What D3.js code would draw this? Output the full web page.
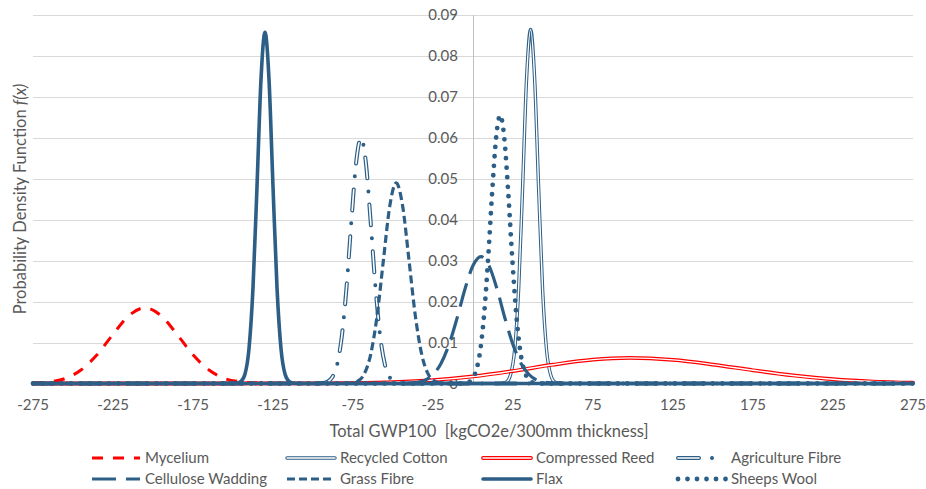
<!DOCTYPE html>
<html><head><meta charset="utf-8">
<script src="https://cdn.jsdelivr.net/npm/d3@7"></script>
<style>
html,body{margin:0;padding:0;background:#fff;}
svg{display:block;font-family:"Lato","Liberation Sans",sans-serif;}
</style></head>
<body><svg id="chart" width="926" height="489"></svg>
<script>
// ---- data ----
const xTicks = [-275,-225,-175,-125,-75,-25,25,75,125,175,225,275];
const yTicks = [0,0.01,0.02,0.03,0.04,0.05,0.06,0.07,0.08,0.09];
const seriesNames = ["Mycelium","Recycled Cotton","Compressed Reed","Agriculture Fibre","Cellulose Wadding","Grass Fibre","Flax","Sheeps Wool"];

const mycelium = [[-275,0.0001],[-265,0.0004],[-255,0.0012],[-245,0.0033],[-235,0.0070],[-225,0.0120],[-215,0.0166],[-205,0.0185],[-195,0.0166],[-185,0.0120],[-175,0.0070],[-165,0.0033],[-155,0.0012],[-145,0.0004],[-135,0.0001],[-120,0],[275,0]];
const recycledCotton = [[-275,0],[16,0],[18.5,0.0001],[21,0.0004],[23.5,0.0022],[26,0.0081],[28.5,0.0229],[31,0.0479],[33.5,0.0746],[36,0.0865],[38.5,0.0746],[41,0.0479],[43.5,0.0229],[46,0.0081],[48.5,0.0022],[51,0.0004],[53.5,0.0001],[56,0],[275,0]];
const compressedReed = [[-275,0],[-200,0],[-150,0.000002],[-100,0.000032],[-75,0.00011],[-50,0.00033],[-25,0.00082],[0,0.00172],[25,0.00305],[50,0.00459],[75,0.00582],[98,0.00625],[125,0.00576],[150,0.00462],[175,0.00323],[200,0.00196],[225,0.00104],[250,0.00048],[275,0.00019]];
const agricultureFibre = [[-275,0],[-97,0],[-94,0.0001],[-91,0.0004],[-88,0.0015],[-85,0.0045],[-82,0.0115],[-79,0.0237],[-76,0.0397],[-73,0.0541],[-70,0.0600],[-67,0.0541],[-64,0.0397],[-61,0.0237],[-58,0.0115],[-55,0.0045],[-52,0.0015],[-49,0.0004],[-46,0.0001],[-43,0],[275,0]];
const celluloseWadding = [[-275,0],[-45,0],[-40,0.0001],[-35,0.0003],[-30,0.0008],[-25,0.0022],[-20,0.0049],[-15,0.0095],[-10,0.0159],[-5,0.0231],[0,0.0288],[5,0.0310],[10,0.0288],[15,0.0231],[20,0.0159],[25,0.0095],[30,0.0049],[35,0.0022],[40,0.0008],[45,0.0003],[50,0.0001],[55,0],[275,0]];
const grassFibre = [[-275,0],[-80,0],[-76,0.0001],[-72,0.0006],[-68,0.0023],[-64,0.0070],[-60,0.0164],[-56,0.0301],[-52,0.0434],[-48,0.0490],[-44,0.0434],[-40,0.0301],[-36,0.0164],[-32,0.0070],[-28,0.0023],[-24,0.0006],[-20,0.0001],[-16,0],[275,0]];
const flax = [[-275,0],[-150,0],[-147.5,0.0001],[-145,0.0005],[-142.5,0.0023],[-140,0.0085],[-137.5,0.0234],[-135,0.0481],[-132.5,0.0743],[-130,0.0858],[-127.5,0.0743],[-125,0.0481],[-122.5,0.0234],[-120,0.0085],[-117.5,0.0023],[-115,0.0005],[-112.5,0.0001],[-110,0],[275,0]];
const sheepsWool = [[-275,0],[-8,0],[-5.5,0.0001],[-3,0.0003],[-0.5,0.0011],[2,0.0032],[4.5,0.0080],[7,0.0171],[9.5,0.0308],[12,0.0468],[14.5,0.0602],[17,0.0655],[19.5,0.0602],[22,0.0468],[24.5,0.0308],[27,0.0171],[29.5,0.0080],[32,0.0032],[34.5,0.0011],[37,0.0003],[39.5,0.0001],[42,0],[275,0]];

const seriesData = [mycelium, recycledCotton, compressedReed, agricultureFibre, celluloseWadding, grassFibre, flax, sheepsWool];

// ---- styles ----
const BLUE = "#2c5e86", RED = "#ff0000";
const styles = [
  {color:RED,  width:3,   dash:"11,10", cap:"butt"},
  {color:BLUE, width:3.4, dash:null, cap:"round", inner:1.4},
  {color:RED,  width:3.8, dash:null, cap:"round", inner:1.4},
  {color:BLUE, width:4,   dash:"21,13,0,13", innerDash:"21,26", cap:"round", inner:1.6, legendLen:44},
  {color:BLUE, width:3.2, dash:"24,10", cap:"butt"},
  {color:BLUE, width:3.2, dash:"8,4", cap:"butt"},
  {color:BLUE, width:3.6, dash:null, cap:"round"},
  {color:BLUE, width:4.8, dash:"0,9.5", cap:"round"}
];

const svg = d3.select("#chart");
const x = d3.scaleLinear().domain([-275,275]).range([33,913]);
const y = d3.scaleLinear().domain([0,0.09]).range([383.5,15]);
const TXT = "#595959";

// gridlines
svg.append("g").selectAll("line").data(yTicks.filter(v=>v>0)).join("line")
  .attr("x1",x(-275)).attr("x2",x(275))
  .attr("y1",d=>Math.round(y(d))+0.5).attr("y2",d=>Math.round(y(d))+0.5)
  .attr("stroke","#d9d9d9").attr("stroke-width",1);

// vertical axis at x=0
svg.append("line").attr("x1",Math.round(x(0))+0.5).attr("x2",Math.round(x(0))+0.5)
  .attr("y1",y(0.09)).attr("y2",y(0)).attr("stroke","#bfbfbf").attr("stroke-width",1);

// y tick labels (at x=0 axis)
svg.append("g").selectAll("text").data(yTicks).join("text")
  .attr("x",x(0)-15).attr("y",d=>y(d)).attr("dy","0.35em")
  .attr("text-anchor","end").attr("fill",TXT).style("font-size","15px")
  .text(d=>d===0?"0":d3.format(".2f")(d));

// x tick labels
svg.append("g").selectAll("text").data(xTicks).join("text")
  .attr("x",d=>x(d)).attr("y",405).attr("dy","0.35em")
  .attr("text-anchor","middle").attr("fill",TXT).style("font-size","15px")
  .text(d=>d);

// axis titles
svg.append("text").attr("x",489).attr("y",437).attr("text-anchor","middle")
  .attr("fill",TXT).style("font-size","16.5px").style("white-space","pre")
  .text("Total GWP100  [kgCO2e/300mm thickness]");
const yt = svg.append("text").attr("transform","translate(26,199) rotate(-90)")
  .attr("text-anchor","middle").attr("fill",TXT).style("font-size","16.5px");
yt.append("tspan").text("Probability Density Function ");
yt.append("tspan").style("font-style","italic").text("f(x)");

// series
const line = d3.line().x(d=>x(d[0])).y(d=>y(d[1])).curve(d3.curveMonotoneX);
const plot = svg.append("g");
function drawPath(g, dAttr, s){
  const p = g.append("path").attr("d",dAttr).attr("fill","none")
    .attr("stroke",s.color).attr("stroke-width",s.width)
    .attr("stroke-linecap",s.cap).attr("stroke-linejoin","round");
  if(s.dash) p.attr("stroke-dasharray",s.dash);
  if(s.inner){
    const q = g.append("path").attr("d",dAttr).attr("fill","none")
      .attr("stroke","#ffffff").attr("stroke-width",s.inner)
      .attr("stroke-linecap",s.cap).attr("stroke-linejoin","round");
    const dd = s.innerDash || s.dash;
    if(dd) q.attr("stroke-dasharray",dd);
  }
}
seriesData.forEach((data,i)=>drawPath(plot, line(data), styles[i]));

// legend
const colX = [145,340,536,731];
const rowY = [458,479];
const leg = svg.append("g");
seriesNames.forEach((name,i)=>{
  const c = i%4, r = Math.floor(i/4);
  const tx = colX[c], ty = rowY[r];
  const len = styles[i].legendLen || 48;
  drawPath(leg, `M${tx-53},${ty}L${tx-53+len},${ty}`, styles[i]);
  leg.append("text").attr("x",tx).attr("y",ty).attr("dy","0.35em")
    .attr("fill",TXT).style("font-size","15px").text(name);
});
</script>
</body></html>
